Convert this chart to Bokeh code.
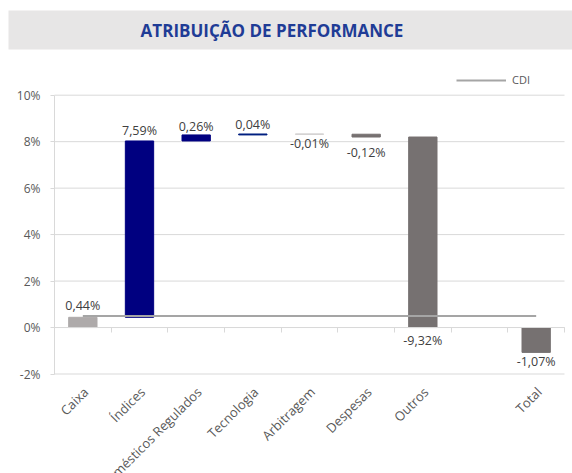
from math import pi
from bokeh.plotting import figure
from bokeh.models import (Range1d, FixedTicker, LinearAxis, ColumnDataSource, LabelSet,
                          BoxAnnotation, Label, Legend, LegendItem)
from bokeh.core.properties import value
from bokeh.embed import file_html
from bokeh.resources import INLINE

# ---- data ----
title_text = "ATRIBUIÇÃO DE PERFORMANCE"
categories = ["Caixa", "Índices", "Domésticos Regulados", "Tecnologia",
              "Arbitragem", "Despesas", "Outros", "", "Total"]
contrib = [0.44, 7.59, 0.26, 0.04, -0.01, -0.12, -9.32, None, -1.07]
bar_colors = ["#AEAAAA", "#000080", "#000080", "#002080",
              "#D0CECE", "#767171", "#767171", None, "#767171"]
cdi_label = "CDI"
cdi_value = 0.50
y_ticks = [-2, 0, 2, 4, 6, 8, 10]
y_tick_labels = ["-2%", "0%", "2%", "4%", "6%", "8%", "10%"]

# ---- layout constants (pixels) ----
W, H = 572, 473
PLOT_L, PLOT_R, PLOT_T, PLOT_B = 54, 564, 94.7, 373.5
n = len(categories)
px_x = (PLOT_R - PLOT_L) / n
px_y = (PLOT_B - PLOT_T) / (y_ticks[-1] - y_ticks[0])
x_lo = -PLOT_L / px_x
x_hi = n + (W - PLOT_R) / px_x
y_lo = y_ticks[0] - (H - PLOT_B) / px_y
y_hi = y_ticks[-1] + PLOT_T / px_y

# waterfall geometry from contributions (Excel-style: floating bars stop at 0)
xs, lows, highs, cols, texts, ly, base = [], [], [], [], [], [], []
running = 0.0
for i, (c, v) in enumerate(zip(categories, contrib)):
    if v is None:
        continue
    if c == "Total":
        start, end = 0.0, v
    else:
        start, end = running, running + v
        running = end
    lo, hi = min(start, end), max(start, end)
    if hi > 0 and lo < 0:
        lo = 0.0
    xs.append(i + 0.5)
    lows.append(lo)
    highs.append(hi)
    cols.append(bar_colors[i])
    texts.append(("%.2f%%" % v).replace(".", ","))
    if v >= 0:
        ly.append(hi); base.append("bottom")
    else:
        ly.append(lo); base.append("top")

label_gap = [3, 2, 0, 1, -1, -7, -4, -1]  # pixel offsets for data labels (up = +)

src = ColumnDataSource(dict(x=xs, lo=lows, hi=highs, color=cols, text=texts,
                            ly=ly, base=base, off=label_gap))

p = figure(width=W, height=H, output_backend="svg", toolbar_location=None,
           x_range=Range1d(x_lo, x_hi), y_range=Range1d(y_lo, y_hi),
           min_border=0, x_axis_type=None, y_axis_type=None)
p.outline_line_color = None
p.background_fill_color = "white"
p.border_fill_color = "white"
p.grid.visible = False

# gridlines
p.segment(x0=[0] * len(y_ticks), x1=[n] * len(y_ticks), y0=y_ticks, y1=y_ticks,
          line_color="#D9D9D9", line_width=1)

# y axis
yax = LinearAxis(fixed_location=0, bounds=(y_ticks[0], y_ticks[-1]),
                 ticker=FixedTicker(ticks=y_ticks))
yax.major_label_overrides = {t: l for t, l in zip(y_ticks, y_tick_labels)}
yax.axis_line_color = "#D9D9D9"
yax.major_tick_line_color = "#D9D9D9"
yax.major_tick_out = 4
yax.major_tick_in = 0
yax.minor_tick_line_color = None
yax.major_label_text_font = "Open Sans"
yax.major_label_text_font_size = "12px"
yax.major_label_text_color = "#595959"
yax.major_label_standoff = 10
p.add_layout(yax, "left")

# zero axis with tick marks between categories
zax = LinearAxis(fixed_location=0, bounds=(0, n),
                 ticker=FixedTicker(ticks=list(range(n + 1))))
zax.major_label_overrides = {i: "" for i in range(n + 1)}
zax.major_label_text_font_size = "1px"
zax.axis_line_color = "#D9D9D9"
zax.major_tick_line_color = "#D9D9D9"
zax.major_tick_out = 5
zax.major_tick_in = 0
zax.minor_tick_line_color = None
p.add_layout(zax, "below")

# bars
p.vbar(x="x", width=0.5, bottom="lo", top="hi", fill_color="color", line_color="color",
       line_width=1, source=src)

# CDI line
cdi = p.line([0.5, n - 0.5], [cdi_value, cdi_value], line_color="#A5A5A5", line_width=2)

# data labels
labels = LabelSet(x="x", y="ly", text="text", source=src, text_align="center",
                  text_baseline="base", y_offset="off", text_font=value("Open Sans"),
                  text_font_size="12.5px", text_color="#404040")
p.add_layout(labels)

# category labels
cat_src = ColumnDataSource(dict(x=[i + 0.5 for i in range(n)], text=categories))
cat_labels = LabelSet(x="x", y=H - 389, y_units="screen", x_offset=3, text="text",
                      source=cat_src, angle=pi / 4, text_align="right",
                      text_baseline="middle", text_font=value("Open Sans"),
                      text_font_size="13px", text_color="#595959")
p.add_layout(cat_labels)

# title band
band = BoxAnnotation(left=8, right=W, bottom=H - 49, top=H - 10,
                     left_units="screen", right_units="screen",
                     top_units="screen", bottom_units="screen",
                     fill_color="#E7E6E6", fill_alpha=1, line_color=None, level="underlay")
p.add_layout(band)
title = Label(x=271.5, y=H - 29.5, x_units="screen", y_units="screen",
              text=title_text, text_align="center", text_baseline="middle",
              text_font="Open Sans", text_font_style="bold", text_font_size="17px",
              text_color="#1F3C96")
p.add_layout(title)

# legend
legend = Legend(items=[LegendItem(label=cdi_label, renderers=[cdi])],
                location=(456, H - 87), orientation="horizontal",
                glyph_width=50, glyph_height=10, label_standoff=6,
                padding=0, margin=0, border_line_color=None, background_fill_alpha=0,
                label_text_font="Open Sans", label_text_font_size="11px",
                label_text_color="#595959")
p.add_layout(legend)

open("out.html", "w").write(file_html(p, INLINE))
